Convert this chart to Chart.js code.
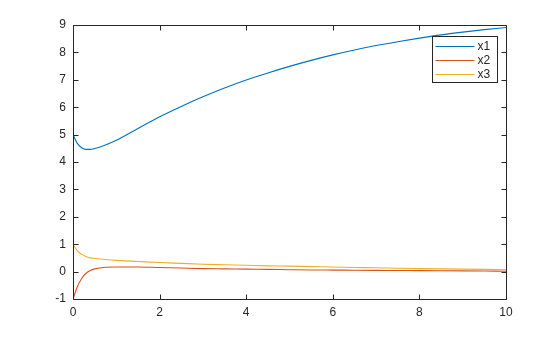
<!DOCTYPE html>
<html>
<head>
<meta charset="utf-8">
<script src="https://cdn.jsdelivr.net/npm/chart.js@4/dist/chart.umd.min.js"></script>
<style>
  html, body { margin: 0; padding: 0; background: #fff; }
  #wrap { width: 560px; height: 337px; }
</style>
</head>
<body>
<div id="wrap"><canvas id="chart" width="560" height="337"></canvas></div>
<script>
// time points and the three solution curves
const t  = [0, 0.1, 0.2, 0.3, 0.4, 0.5, 0.75, 1, 1.5, 2, 2.5, 3, 3.5, 4, 4.5, 5, 5.5, 6, 6.5, 7, 7.5, 8, 8.5, 9, 9.5, 10];
const x1 = [5.0, 4.68, 4.52, 4.46, 4.46, 4.49, 4.62, 4.79, 5.22, 5.65, 6.03, 6.38, 6.7, 6.99, 7.25, 7.49, 7.71, 7.91, 8.09, 8.25, 8.39, 8.52, 8.64, 8.74, 8.83, 8.91];
const x2 = [-1, -0.55, -0.25, -0.06, 0.04, 0.1, 0.16, 0.17, 0.17, 0.15, 0.13, 0.11, 0.1, 0.09, 0.08, 0.07, 0.06, 0.055, 0.05, 0.045, 0.04, 0.035, 0.03, 0.025, 0.02, 0.015];
const x3 = [1.0, 0.76, 0.63, 0.55, 0.5, 0.48, 0.44, 0.41, 0.37, 0.33, 0.3, 0.27, 0.25, 0.23, 0.21, 0.2, 0.18, 0.17, 0.15, 0.14, 0.12, 0.11, 0.1, 0.09, 0.08, 0.07];

const labels = ["x1", "x2", "x3"];
const colors = ["#0072BD", "#D95319", "#EDB120"];
const axisColor = "#262626";
const fontFamily = "'Liberation Sans', Arial, Helvetica, sans-serif";

function toPoints(ys) {
  return t.map((v, i) => ({ x: v, y: ys[i] }));
}

// box around the axes with inward ticks on all four sides
const frame = {
  id: "frame",
  afterDatasetsDraw(chart) {
    const { ctx, chartArea: a, scales: { x, y } } = chart;
    const L = Math.round(a.left) + 0.5, R = Math.round(a.right) + 0.5;
    const T = Math.round(a.top) + 0.5, B = Math.round(a.bottom) + 0.5;
    ctx.save();
    ctx.strokeStyle = axisColor;
    ctx.lineWidth = 1;
    ctx.beginPath();
    ctx.rect(L, T, R - L, B - T);
    x.ticks.forEach(tk => {
      const px = Math.round(x.getPixelForValue(tk.value)) + 0.5;
      ctx.moveTo(px, B); ctx.lineTo(px, B - 5);
      ctx.moveTo(px, T); ctx.lineTo(px, T + 5);
    });
    y.ticks.forEach(tk => {
      const py = Math.round(y.getPixelForValue(tk.value)) + 0.5;
      ctx.moveTo(L, py); ctx.lineTo(L + 5, py);
      ctx.moveTo(R, py); ctx.lineTo(R - 5, py);
    });
    ctx.stroke();
    ctx.restore();
  }
};

// MATLAB style legend box in the top right corner
const boxLegend = {
  id: "boxLegend",
  afterDraw(chart) {
    const { ctx, chartArea: a } = chart;
    const w = 65, h = 46;
    const left = Math.round(a.right) - 74 + 0.5, top = Math.round(a.top) + 11 + 0.5;
    ctx.save();
    ctx.fillStyle = "#fff";
    ctx.fillRect(left, top, w, h);
    ctx.strokeStyle = axisColor;
    ctx.lineWidth = 1;
    ctx.strokeRect(left, top, w, h);
    ctx.font = "12px " + fontFamily;
    ctx.textBaseline = "middle";
    chart.data.datasets.forEach((ds, i) => {
      const yy = Math.round(top + 9 + i * 14.3) + 0.5;
      ctx.strokeStyle = ds.borderColor;
      ctx.beginPath();
      ctx.moveTo(left + 3, yy);
      ctx.lineTo(left + 42, yy);
      ctx.stroke();
      ctx.fillStyle = axisColor;
      ctx.fillText(ds.label, left + 45, yy);
    });
    ctx.restore();
  }
};

new Chart(document.getElementById("chart"), {
  type: "line",
  data: {
    datasets: [x1, x2, x3].map((ys, i) => ({
      label: labels[i],
      data: toPoints(ys),
      borderColor: colors[i],
      backgroundColor: colors[i],
      borderWidth: 1.1,
      pointRadius: 0,
      cubicInterpolationMode: "monotone",
      fill: false
    }))
  },
  options: {
    responsive: false,
    animation: false,
    layout: { padding: { top: 25, right: 54, left: 0, bottom: 0 } },
    plugins: {
      legend: { display: false },
      tooltip: { enabled: false }
    },
    scales: {
      x: {
        type: "linear",
        min: 0,
        max: 10,
        grid: { display: false, drawTicks: false },
        border: { display: false },
        ticks: {
          stepSize: 2,
          padding: 6,
          color: axisColor,
          font: { family: fontFamily, size: 12 }
        },
        afterFit(scale) { scale.height = 38; }
      },
      y: {
        type: "linear",
        min: -1,
        max: 9,
        grid: { display: false, drawTicks: false },
        border: { display: false },
        ticks: {
          stepSize: 1,
          padding: 7,
          color: axisColor,
          font: { family: fontFamily, size: 12 }
        },
        afterFit(scale) { scale.width = 73; }
      }
    }
  },
  plugins: [frame, boxLegend]
});
</script>
</body>
</html>
